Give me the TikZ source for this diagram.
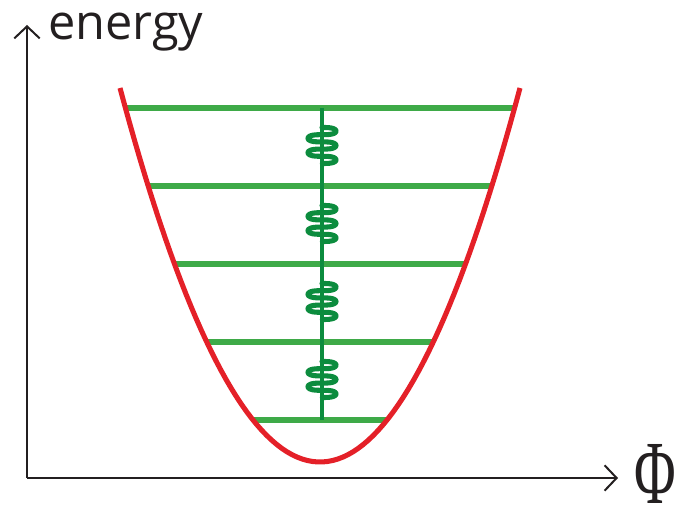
\documentclass[tikz,border=0pt]{standalone}
\usepackage{fontspec}
\setsansfont{Open Sans}
\newfontfamily\phifont{Liberation Serif}
\usetikzlibrary{arrows.meta, calc}
\definecolor{wellred}{RGB}{228,32,40}
\definecolor{levelgreen}{RGB}{62,170,72}
\definecolor{springgreen}{RGB}{12,140,62}
\definecolor{axisgray}{RGB}{35,31,32}
\tikzset{
  axis/.style={-{Straight Barb[length=9pt,width=19pt,line width=1.5pt]},
               line width=1.5pt, axisgray},
  well/.style={line width=3.8pt, wellred},
  level/.style={line width=4.2pt, levelgreen},
  rod/.style={line width=3pt, springgreen},
  spring/.style={line width=3.8pt, springgreen, line cap=round,
                 line join=round},
}

\begin{document}
\begin{tikzpicture}[x=0.75pt, y=0.75pt]
  \useasboundingbox (0,0) rectangle (682,506);

  % ---- axes ----
  \coordinate (O) at (27,28);
  \coordinate (Etop) at (27,481);
  \coordinate (Ptip) at (618,28);
  \draw[axis] (O) -- (Etop);
  \draw[axis] (O) -- (Ptip);
  \node[anchor=base west, inner sep=0, axisgray,
        font=\sffamily\fontsize{36.5}{40}\selectfont]
    (elabel) at (48,466) {energy};
  \node[anchor=base west, inner sep=0, axisgray,
        xscale=0.82, yscale=1.3,
        font=\phifont\fontsize{52}{56}\selectfont]
    (philabel) at (634,2) {Φ};

  % ---- energy levels ----
  \foreach \i/\y in {1/398, 2/320, 3/242, 4/164, 5/86} {
    \coordinate (L\i) at (322,\y);
    \draw[level] ({320-10.3418*sqrt(\y-44)},\y)
      -- ({320+10.3418*sqrt(\y-44)},\y);
  }

  % ---- springs between levels ----
  \draw[rod] (L1) -- (L5);
  \foreach \a/\b in {1/2, 2/3, 3/4, 4/5} {
    \coordinate (S\a) at ($(L\a)!0.5!(L\b)+(0,1.5)$);
    \draw[spring, shift={(S\a)}, variable=\t, domain=0:1, samples=120]
      plot ({14*sin(900*\t)}, {18-36*(\t-sin(1800*\t)/31.416)});
  }

  % ---- potential well ----
  \draw[well, domain=120:520, samples=80]
    plot (\x, {44 + ((\x-320)/10.3418)^2});
\end{tikzpicture}
\end{document}
